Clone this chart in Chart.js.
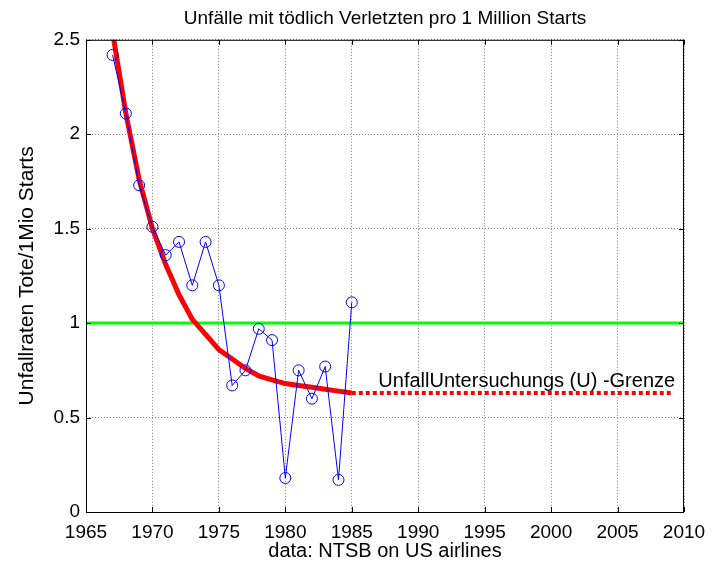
<!DOCTYPE html>
<html>
<head>
<meta charset="utf-8">
<script src="https://cdn.jsdelivr.net/npm/chart.js@4"></script>
<style>
  body { margin: 0; background: #fff; }
  #wrap { width: 718px; height: 565px; }
</style>
</head>
<body>
<div id="wrap"><canvas id="rateChart" width="718" height="565"></canvas></div>
<script>
const years = [1967, 1968, 1969, 1970, 1971, 1972, 1973, 1974, 1975, 1976,
  1977, 1978, 1979, 1980, 1981, 1982, 1983, 1984, 1985];
const rates = [2.42, 2.11, 1.73, 1.51, 1.36, 1.43, 1.20, 1.43, 1.20, 0.67,
  0.75, 0.97, 0.91, 0.18, 0.75, 0.60, 0.77, 0.17, 1.11];
const fitRates = [2.54, 2.11, 1.76, 1.50, 1.31, 1.15, 1.02, 0.94, 0.86, 0.81,
  0.76, 0.72, 0.70, 0.68, 0.67, 0.66, 0.65, 0.64, 0.63];
const limitYears = [1985, 2009];
const limitRates = [0.63, 0.63];
const refYears = [1965, 2010];
const refRates = [1, 1];
const xTicks = [1965, 1970, 1975, 1980, 1985, 1990, 1995, 2000, 2005, 2010];
const yTicks = [0, 0.5, 1, 1.5, 2, 2.5];
const limitLabel = 'UnfallUntersuchungs (U) -Grenze';
const limitLabelAt = { x: 1987, y: 0.66 };

const FONT = "'Liberation Sans', Arial, sans-serif";
Chart.defaults.font.family = FONT;
Chart.defaults.color = '#000';

const toPoints = (xs, ys) => xs.map((x, i) => ({ x, y: ys[i] }));

// box round the plot, inward ticks, and the text above the dotted line
const framePlugin = {
  id: 'frame',
  afterDatasetsDraw(chart) {
    const { ctx, chartArea: a, scales } = chart;
    ctx.save();
    ctx.strokeStyle = '#000';
    ctx.lineWidth = 1;
    ctx.strokeRect(a.left + 0.5, a.top + 0.5, a.right - a.left - 1, a.bottom - a.top);
    ctx.beginPath();
    xTicks.forEach(v => {
      const px = Math.round(scales.x.getPixelForValue(v)) + 0.5;
      ctx.moveTo(px, a.bottom); ctx.lineTo(px, a.bottom - 5);
      ctx.moveTo(px, a.top); ctx.lineTo(px, a.top + 5);
    });
    yTicks.forEach(v => {
      const py = Math.round(scales.y.getPixelForValue(v)) + 0.5;
      ctx.moveTo(a.left, py); ctx.lineTo(a.left + 5, py);
      ctx.moveTo(a.right, py); ctx.lineTo(a.right - 5, py);
    });
    ctx.stroke();

    ctx.fillStyle = '#000';
    ctx.font = '20px ' + FONT;
    ctx.textAlign = 'left';
    ctx.textBaseline = 'alphabetic';
    ctx.fillText(limitLabel, scales.x.getPixelForValue(limitLabelAt.x),
      scales.y.getPixelForValue(limitLabelAt.y));
    ctx.restore();
  }
};

const ctx = document.getElementById('rateChart').getContext('2d');
new Chart(ctx, {
  type: 'line',
  data: {
    datasets: [
      {
        data: toPoints(years, rates),
        borderColor: '#0000ff',
        borderWidth: 1,
        pointRadius: 5.5,
        pointBorderWidth: 1,
        pointBorderColor: '#0000ff',
        pointBackgroundColor: 'rgba(0,0,0,0)',
        tension: 0
      },
      {
        data: toPoints(years, fitRates),
        borderColor: '#ff0000',
        borderWidth: 5,
        pointRadius: 0,
        tension: 0,
        clip: 0
      },
      {
        data: toPoints(limitYears, limitRates),
        borderColor: '#ff0000',
        borderWidth: 4,
        borderDash: [4, 3],
        pointRadius: 0
      },
      {
        data: toPoints(refYears, refRates),
        borderColor: '#00ff00',
        borderWidth: 3,
        pointRadius: 0
      }
    ]
  },
  options: {
    responsive: false,
    animation: false,
    layout: { padding: { left: 0, right: 34, top: 0, bottom: 0 } },
    plugins: {
      legend: { display: false },
      tooltip: { enabled: false },
      title: {
        display: true,
        fullSize: false,
        text: 'Unfälle mit tödlich Verletzten pro 1 Million Starts',
        color: '#000',
        font: { size: 19, weight: 'normal', family: FONT },
        padding: { top: 7, bottom: 10 }
      }
    },
    scales: {
      x: {
        type: 'linear',
        min: 1965,
        max: 2010,
        afterBuildTicks: scale => { scale.ticks = xTicks.map(v => ({ value: v })); },
        ticks: { callback: v => String(v), font: { size: 19 }, padding: 9, maxRotation: 0, color: '#000' },
        grid: { color: '#808080', drawTicks: false },
        border: { display: false, dash: [1, 2] },
        title: { display: true, text: 'data: NTSB on US airlines', font: { size: 20 }, padding: { top: 0, bottom: 2 }, color: '#000' },
        afterFit: scale => { scale.height = 53; }
      },
      y: {
        min: 0,
        max: 2.5,
        afterBuildTicks: scale => { scale.ticks = yTicks.map(v => ({ value: v })); },
        ticks: { callback: v => String(v), font: { size: 19 }, padding: 6, color: '#000' },
        grid: { color: '#808080', drawTicks: false },
        border: { display: false, dash: [1, 2] },
        title: { display: true, text: 'Unfallraten Tote/1Mio Starts', font: { size: 21 }, padding: { top: 15, bottom: 0 }, color: '#000' },
        afterFit: scale => { scale.width = 86; }
      }
    }
  },
  plugins: [framePlugin]
});
</script>
</body>
</html>
